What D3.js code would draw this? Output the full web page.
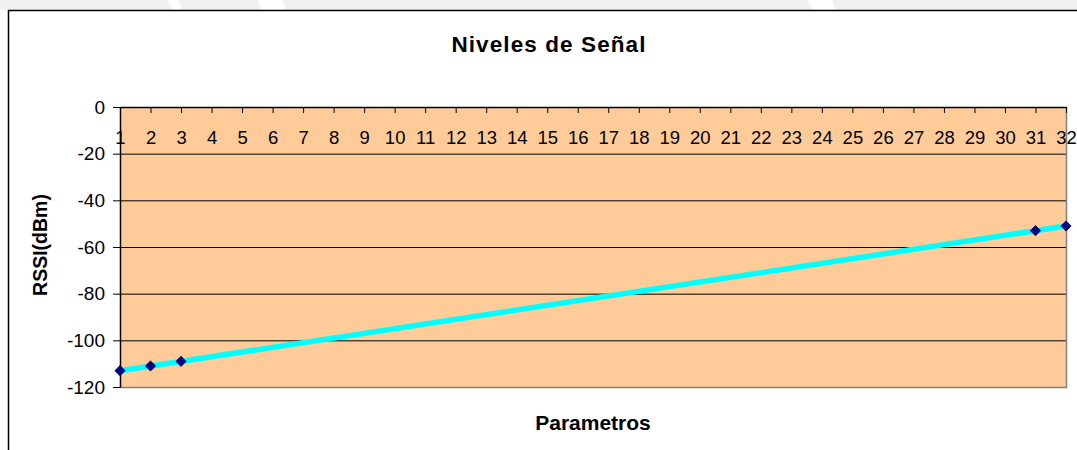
<!DOCTYPE html>
<html>
<head>
<meta charset="utf-8">
<script src="https://cdn.jsdelivr.net/npm/d3@7"></script>
<style>
  body { margin: 0; background: #fff; }
  svg { display: block; font-family: "Liberation Sans", Arial, sans-serif; }
</style>
</head>
<body>
<svg width="1077" height="450"></svg>
<script>
// data
const categories = ["1","2","3","4","5","6","7","8","9","10","11","12","13","14","15","16",
                    "17","18","19","20","21","22","23","24","25","26","27","28","29","30","31","32"];
const rssi = [-113, -111, -109, null, null, null, null, null, null, null, null, null, null, null, null, null,
              null, null, null, null, null, null, null, null, null, null, null, null, null, null, -53, -51];
const yTicks = [0, -20, -40, -60, -80, -100, -120];

const svg = d3.select("svg"),
      plot = {left: 120, right: 1066, top: 107, bottom: 387};

// faint watermark strip at the very top
svg.append("rect").attr("x", 0).attr("y", 0).attr("width", 1077).attr("height", 10).attr("fill", "#f1f1f1");
[[168, 178], [258, 282], [808, 832]].forEach(([a, b]) => {
  svg.append("path")
     .attr("d", `M${a},0L${b},0L${b + 4},10L${a + 4},10Z`)
     .attr("fill", "#fff");
});

// chart frame (cut off at right and bottom)
svg.append("path")
   .attr("d", "M8.5,450V10.5H1077")
   .attr("fill", "none").attr("stroke", "#000").attr("stroke-width", 1.5);

const x = d3.scalePoint().domain(categories).range([plot.left, plot.right]);
const y = d3.scaleLinear().domain([-120, 0]).range([plot.bottom, plot.top]);

// plot background
svg.append("rect")
   .attr("x", plot.left).attr("y", plot.top)
   .attr("width", plot.right - plot.left).attr("height", plot.bottom - plot.top)
   .attr("fill", "#ffcc99");

// gridlines
svg.append("g").selectAll("line")
   .data(yTicks.filter(d => d !== 0 && d !== -120))
   .join("line")
   .attr("x1", plot.left).attr("x2", plot.right)
   .attr("y1", d => y(d) + 0.5).attr("y2", d => y(d) + 0.5)
   .attr("stroke", "#000");

// grey border bottom / right
svg.append("path")
   .attr("d", `M${plot.left},${plot.bottom + 0.5}H${plot.right + 0.5}V${plot.top}`)
   .attr("fill", "none").attr("stroke", "#808080").attr("stroke-width", 1.5);

// y axis
const yAxis = svg.append("g")
   .attr("transform", `translate(${plot.left},0)`)
   .call(d3.axisLeft(y).tickValues(yTicks).tickFormat(d => String(d))
           .tickSize(7).tickPadding(8).tickSizeOuter(0));
yAxis.attr("font-family", null).attr("font-size", 19);
yAxis.select(".domain").attr("stroke", "#000").attr("stroke-width", 1.5);
yAxis.selectAll("text").attr("fill", "#000");

// category axis along the 0 line
const xAxis = svg.append("g")
   .attr("transform", `translate(0,${y(0)})`)
   .call(d3.axisBottom(x).tickSize(6).tickPadding(18).tickSizeOuter(0));
xAxis.attr("font-family", null).attr("font-size", 18.5);
xAxis.select(".domain").attr("stroke", "#000").attr("stroke-width", 1.5);
xAxis.selectAll("text").attr("fill", "#000");

const pts = categories.map((c, i) => ({i: i + 1, c, v: rssi[i]})).filter(d => d.v !== null);

// linear trend through the measured points
const mx = d3.mean(pts, d => d.i), my = d3.mean(pts, d => d.v);
const slope = d3.sum(pts, d => (d.i - mx) * (d.v - my)) / d3.sum(pts, d => (d.i - mx) ** 2);
const fit = i => my + slope * (i - mx);
const first = categories[0], last = categories[categories.length - 1];

svg.append("line")
   .attr("x1", x(first)).attr("y1", y(fit(1)))
   .attr("x2", x(last)).attr("y2", y(fit(categories.length)))
   .attr("stroke", "#00ffff").attr("stroke-width", 5.5);

// markers (square turned into a diamond)
svg.append("g").selectAll("path")
   .data(pts)
   .join("path")
   .attr("transform", d => `translate(${x(d.c)},${y(d.v)}) rotate(45)`)
   .attr("d", d3.symbol(d3.symbolSquare, 52))
   .attr("fill", "#000080").attr("stroke", "#000066").attr("stroke-width", 0.8);

// titles
svg.append("text")
   .attr("x", 549).attr("y", 52)
   .attr("text-anchor", "middle").attr("font-size", 22.5).attr("font-weight", "bold")
   .attr("letter-spacing", 1.1)
   .text("Niveles de Señal");

svg.append("text")
   .attr("transform", "translate(47,245) rotate(-90)")
   .attr("text-anchor", "middle").attr("font-size", 19.5).attr("font-weight", "bold")
   .text("RSSI(dBm)");

svg.append("text")
   .attr("x", (plot.left + plot.right) / 2).attr("y", 430)
   .attr("text-anchor", "middle").attr("font-size", 21).attr("font-weight", "bold")
   .text("Parametros");
</script>
</body>
</html>
